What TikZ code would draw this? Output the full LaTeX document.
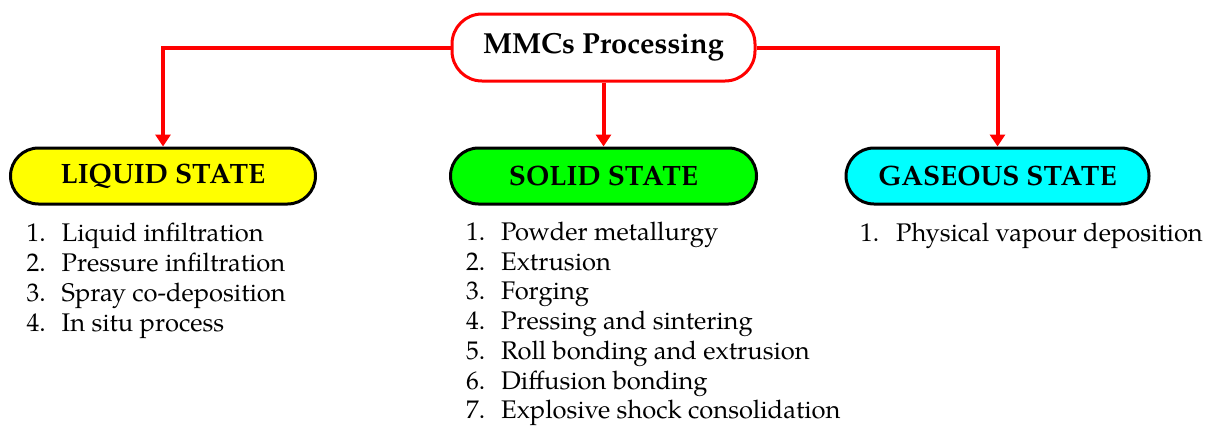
\documentclass[tikz,border=0pt]{standalone}
\usepackage{fontspec}
\setmainfont{TeX Gyre Pagella}
\usetikzlibrary{arrows.meta}
\definecolor{liqfill}{RGB}{255,255,0}
\definecolor{solfill}{RGB}{0,255,0}
\definecolor{gasfill}{RGB}{0,255,255}
\definecolor{linkred}{RGB}{255,0,0}
\tikzset{
  head/.style={draw=linkred, line width=3pt, fill=white, rounded corners=30pt,
    minimum width=303pt, minimum height=67pt, inner sep=0pt,
    font=\fontsize{29}{34}\selectfont\bfseries},
  statebox/.style={draw=black, line width=3pt, rounded corners=28pt,
    minimum height=56pt, inner sep=0pt,
    font=\fontsize{28}{33}\selectfont\bfseries},
  link/.style={draw=linkred, line width=4pt,
    -{Triangle[width=15pt,length=12pt]}},
  num/.style={anchor=base west, inner sep=0pt, font=\fontsize{25.5}{30}\selectfont},
  item/.style={anchor=base west, inner sep=0pt, font=\fontsize{25.5}{30}\selectfont}
}
\begin{document}
\begin{tikzpicture}[x=1pt,y=-1pt]
\useasboundingbox (0,0) rectangle (1206,429);

% root and the three processing routes
\node[head] (root) at (603.5,47.5) {MMCs Processing};
\node[statebox, fill=liqfill, minimum width=305pt] (liquid) at (163,176) {LIQUID STATE};
\node[statebox, fill=solfill, minimum width=306pt] (solid) at (603.5,176) {SOLID STATE};
\node[statebox, fill=gasfill, minimum width=303pt] (gas) at (997.5,176) {GASEOUS STATE};

% connectors
\draw[link] (root.west) -| (liquid.north);
\draw[link] (root.south) -- (solid.north);
\draw[link] (root.east) -| (gas.north);

% liquid state methods
\foreach \i/\t [count=\k from 0] in {1/Liquid infiltration, 2/Pressure infiltration,
    3/Spray co-deposition, 4/In situ process} {
  \node[num] (ln\i) at (26.5,241.5+30*\k) {\i.};
  \node[item] (lt\i) at (61.5,241.5+30*\k) {\t};
}

% solid state methods
\foreach \i/\t [count=\k from 0] in {1/Powder metallurgy, 2/Extrusion, 3/Forging,
    4/Pressing and sintering, 5/Roll bonding and extrusion, 6/Diffusion bonding,
    7/Explosive shock consolidation} {
  \node[num] (sn\i) at (466,240.5+29.7*\k) {\i.};
  \node[item] (st\i) at (501,240.5+29.7*\k) {\t};
}

% gaseous state method
\node[num] (gn1) at (860,241) {1.};
\node[item] (gt1) at (896,241) {Physical vapour deposition};
\end{tikzpicture}
\end{document}
